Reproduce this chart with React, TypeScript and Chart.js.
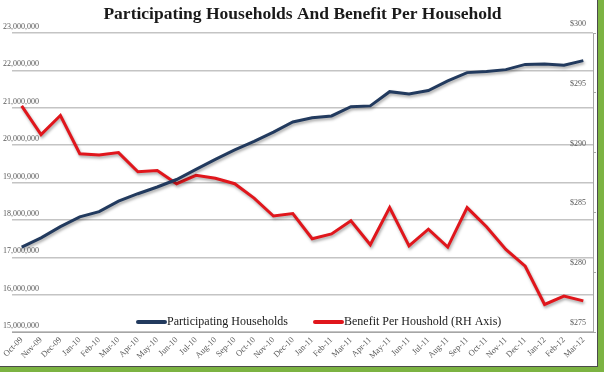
import React, { useEffect, useRef } from "react";
import { Chart, registerables } from "chart.js";

Chart.register(...registerables);

const months: string[] = [
  "Oct-09", "Nov-09", "Dec-09", "Jan-10", "Feb-10", "Mar-10", "Apr-10", "May-10", "Jun-10",
  "Jul-10", "Aug-10", "Sep-10", "Oct-10", "Nov-10", "Dec-10", "Jan-11", "Feb-11", "Mar-11",
  "Apr-11", "May-11", "Jun-11", "Jul-11", "Aug-11", "Sep-11", "Oct-11", "Nov-11", "Dec-11",
  "Jan-12", "Feb-12", "Mar-12",
];

const households: number[] = [
  17270000, 17520000, 17820000, 18080000, 18220000, 18500000, 18700000, 18880000, 19080000,
  19350000, 19620000, 19870000, 20100000, 20350000, 20620000, 20730000, 20780000, 21030000,
  21050000, 21430000, 21370000, 21460000, 21720000, 21940000, 21970000, 22020000, 22160000,
  22170000, 22140000, 22260000,
];

const benefit: number[] = [
  293.9, 291.5, 293.1, 289.9, 289.8, 290.0, 288.4, 288.5, 287.4,
  288.1, 287.85, 287.4, 286.2, 284.7, 284.9, 282.8, 283.2, 284.3,
  282.3, 285.4, 282.2, 283.6, 282.1, 285.4, 283.8, 281.9, 280.5,
  277.3, 278.0, 277.6,
];

const titleText = "Participating Households And Benefit Per Household";
const seriesLabels = ["Participating Households", "Benefit Per Houshold (RH Axis)"];

const BLUE = "#223a5e";
const RED = "#e0161c";

const shadowPlugin = {
  id: "lineShadow",
  beforeDatasetDraw(chart: any) {
    const ctx = chart.ctx;
    ctx.save();
    ctx.shadowColor = "rgba(0,0,0,0.35)";
    ctx.shadowBlur = 3;
    ctx.shadowOffsetX = 1;
    ctx.shadowOffsetY = 2;
  },
  afterDatasetDraw(chart: any) {
    chart.ctx.restore();
  },
};

const legendPlugin = {
  id: "innerLegend",
  afterDatasetsDraw(chart: any) {
    const ctx = chart.ctx;
    const area = chart.chartArea;
    const y = area.bottom - 10;
    ctx.save();
    ctx.font = "12px 'Liberation Serif', serif";
    ctx.textBaseline = "middle";
    ctx.textAlign = "left";
    const items = chart.data.datasets.map((d: any) => ({ label: d.label, color: d.borderColor }));
    const starts = [138, 315];
    items.forEach((it: any, i: number) => {
      const x = starts[i];
      ctx.strokeStyle = it.color;
      ctx.lineWidth = 4;
      ctx.lineCap = "round";
      ctx.beginPath();
      ctx.moveTo(x, y);
      ctx.lineTo(x + 27, y);
      ctx.stroke();
      ctx.fillStyle = "#1a1a1a";
      ctx.fillText(it.label, x + 29, y);
    });
    ctx.restore();
  },
};

export default function App() {
  const ref = useRef<HTMLCanvasElement>(null);
  useEffect(() => {
    if (!ref.current) return;
    const tickFont = { family: "'Liberation Serif', serif", size: 8 };
    const chart = new Chart(ref.current, {
      type: "line",
      data: {
        labels: months,
        datasets: [
          {
            label: seriesLabels[0],
            data: households,
            borderColor: BLUE,
            backgroundColor: BLUE,
            borderWidth: 3,
            pointRadius: 0,
            tension: 0,
            yAxisID: "y",
          },
          {
            label: seriesLabels[1],
            data: benefit,
            borderColor: RED,
            backgroundColor: RED,
            borderWidth: 3,
            pointRadius: 0,
            tension: 0,
            yAxisID: "y1",
          },
        ],
      },
      options: {
        animation: false,
        responsive: false,
        layout: { padding: { left: 12, right: 4, top: 0, bottom: 0 }, autoPadding: false },
        plugins: {
          legend: { display: false },
          tooltip: { enabled: false },
          title: {
            display: true,
            text: titleText,
            color: "#1a1a1a",
            font: { family: "'Liberation Serif', serif", size: 17.5, weight: "bold" },
            padding: { top: 4, bottom: 8 },
          },
        },
        scales: {
          x: {
            offset: true,
            grid: { display: true, drawOnChartArea: false, drawTicks: false },
            border: { display: true, color: "#a6a6a6", width: 1 },
            ticks: {
              font: { family: "'Liberation Serif', serif", size: 8.5 },
              color: "#595959",
              maxRotation: 45,
              minRotation: 45,
              autoSkip: false,
              padding: 3,
            },
            afterFit: (s: any) => {
              s.height = 34;
            },
          },
          y: {
            position: "left",
            min: 15000000,
            max: 23000000,
            grid: { color: "#c4c4c4", lineWidth: 1.5, drawTicks: false },
            border: { display: false },
            ticks: {
              stepSize: 1000000,
              mirror: true,
              padding: -9,
              labelOffset: -6,
              font: tickFont,
              color: "#595959",
              callback: (v: any) => Number(v).toLocaleString("en-US"),
            },
            afterFit: (s: any) => {
              s.width = 0;
            },
          },
          y1: {
            position: "right",
            min: 275,
            max: 300,
            grid: { drawOnChartArea: false, drawTicks: true, tickLength: 3, color: "#a6a6a6" },
            border: { display: true, color: "#a6a6a6", width: 1 },
            ticks: {
              stepSize: 5,
              mirror: true,
              padding: -7,
              labelOffset: -9,
              font: tickFont,
              color: "#595959",
              callback: (v: any) => "$" + v,
            },
            afterFit: (s: any) => {
              s.width = 0;
            },
          },
        },
      },
      plugins: [shadowPlugin, legendPlugin],
    } as any);
    return () => chart.destroy();
  }, []);

  return (
    <div
      style={{
        position: "fixed",
        left: 0,
        top: 0,
        width: 604,
        height: 372,
        background: "#7cb342",
      }}
    >
      <div
        style={{
          position: "absolute",
          left: 0,
          top: 0,
          width: 597,
          height: 366,
          background: "#ffffff",
          borderRight: "1px solid #4a4a4a",
          borderBottom: "1px solid #4a4a4a",
        }}
      >
        <canvas ref={ref} width={597} height={366} style={{ display: "block" }} />
      </div>
    </div>
  );
}
